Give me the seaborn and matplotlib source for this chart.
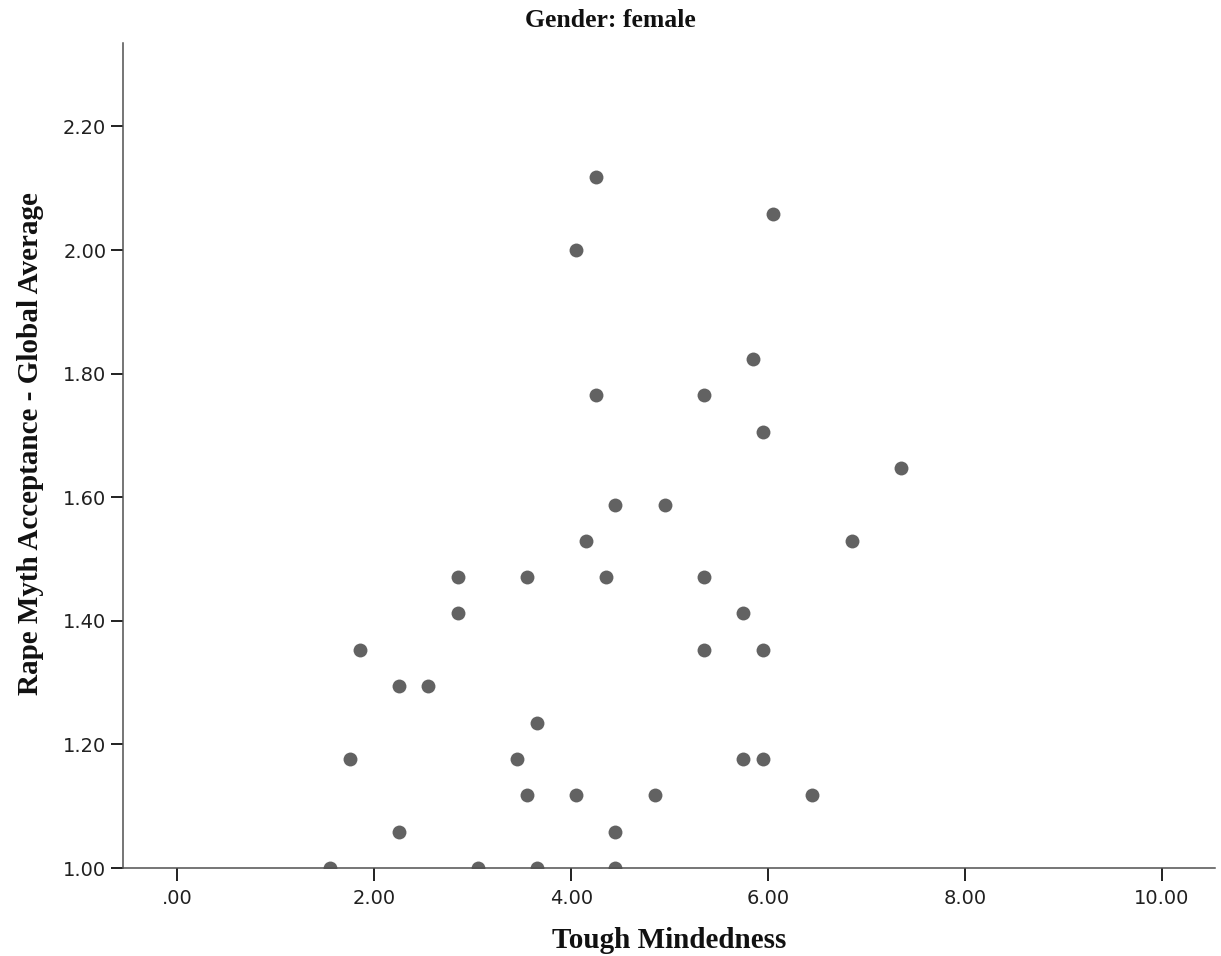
import pandas as pd
import matplotlib
matplotlib.use("Agg")
import matplotlib.pyplot as plt
import seaborn as sns

# Scores (female respondents)
tough_mindedness = [4.25, 6.05, 4.05, 5.85, 4.25, 5.35, 5.95, 7.35, 4.45, 4.95,
                    4.15, 6.85, 2.85, 3.55, 4.35, 5.35, 2.85, 5.75, 1.85, 5.35,
                    5.95, 2.25, 2.55, 3.65, 1.75, 3.45, 5.75, 5.95, 3.55, 4.05,
                    4.85, 6.45, 2.25, 4.45, 1.55, 3.05, 3.65, 4.45]
rma_global = [2.118, 2.059, 2.000, 1.824, 1.765, 1.765, 1.706, 1.647, 1.588, 1.588,
              1.529, 1.529, 1.471, 1.471, 1.471, 1.471, 1.412, 1.412, 1.353, 1.353,
              1.353, 1.294, 1.294, 1.235, 1.176, 1.176, 1.176, 1.176, 1.118, 1.118,
              1.118, 1.118, 1.059, 1.059, 1.000, 1.000, 1.000, 1.000]

x_ticks = [0, 2, 4, 6, 8, 10]
x_tick_labels = [".00", "2.00", "4.00", "6.00", "8.00", "10.00"]
y_ticks = [1.0, 1.2, 1.4, 1.6, 1.8, 2.0, 2.2]
y_tick_labels = ["1.00", "1.20", "1.40", "1.60", "1.80", "2.00", "2.20"]

df = pd.DataFrame({"Tough Mindedness": tough_mindedness,
                   "Rape Myth Acceptance - Global Average": rma_global})

sns.set_style("ticks")
plt.rcParams["font.family"] = ["DejaVu Sans"]

fig = plt.figure(figsize=(12.21, 9.56), dpi=100)
ax = fig.add_axes([0.1007, 0.092, 0.8944, 0.863])

sns.scatterplot(data=df, x="Tough Mindedness",
                y="Rape Myth Acceptance - Global Average",
                color="#626262", s=100, linewidth=0, ax=ax)

ax.set_xlim(-0.553, 10.54)
ax.set_ylim(1.0, 2.335)
ax.set_xticks(x_ticks)
ax.set_xticklabels(x_tick_labels)
ax.set_yticks(y_ticks)
ax.set_yticklabels(y_tick_labels)

sns.despine(ax=ax)
for side in ["left", "bottom"]:
    ax.spines[side].set_color("#505050")
    ax.spines[side].set_linewidth(1.1)

ax.tick_params(axis="both", labelsize=14, colors="#202020", length=9,
               width=1.4)
ax.tick_params(axis="x", pad=6)
ax.tick_params(axis="y", pad=3)

serif = ["Liberation Serif", "DejaVu Serif"]
ax.set_xlabel("Tough Mindedness", fontsize=21, fontweight="bold",
              family=serif, color="#111111")
ax.set_ylabel("Rape Myth Acceptance - Global Average", fontsize=21,
              fontweight="bold", family=serif, color="#111111")
ax.xaxis.set_label_coords(0.5, -0.0715)
ax.yaxis.set_label_coords(-0.072, 0.515)

fig.suptitle("Gender: female", x=0.5, y=0.991, fontsize=18.5,
             fontweight="bold", family=serif, color="#111111")

fig.savefig("out.png", dpi=100)
